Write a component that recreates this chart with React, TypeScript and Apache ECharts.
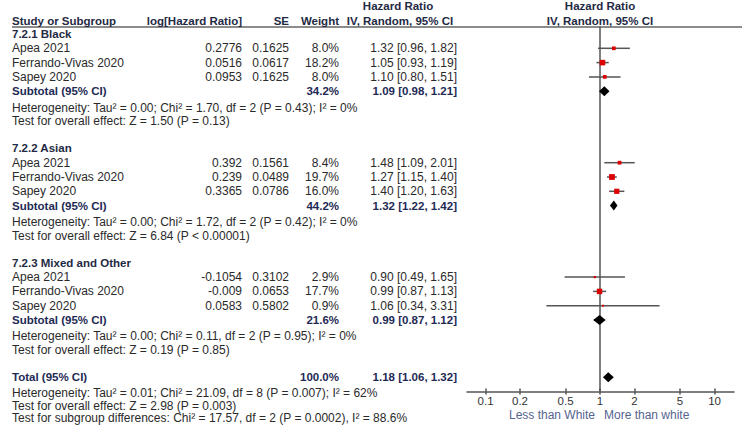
import React, { useEffect, useRef } from "react";
import * as echarts from "echarts";

const groupNames = ["7.2.1 Black", "7.2.2 Asian", "7.2.3 Mixed and Other"];
const studyNames = ["Apea 2021", "Ferrando-Vivas 2020", "Sapey 2020"];
const logHR = [
  [0.2776, 0.0516, 0.0953],
  [0.392, 0.239, 0.3365],
  [-0.1054, -0.009, 0.0583],
];
const seValues = [
  [0.1625, 0.0617, 0.1625],
  [0.1561, 0.0489, 0.0786],
  [0.3102, 0.0653, 0.5802],
];
const weights = [
  [8.0, 18.2, 8.0],
  [8.4, 19.7, 16.0],
  [2.9, 17.7, 0.9],
];
const hrValues = [
  [1.32, 1.05, 1.1],
  [1.48, 1.27, 1.4],
  [0.9, 0.99, 1.06],
];
const hrLower = [
  [0.96, 0.93, 0.8],
  [1.09, 1.15, 1.2],
  [0.49, 0.87, 0.34],
];
const hrUpper = [
  [1.82, 1.19, 1.51],
  [2.01, 1.4, 1.63],
  [1.65, 1.13, 3.31],
];
const subWeights = [34.2, 44.2, 21.6];
const subHR = [1.09, 1.32, 0.99];
const subLower = [0.98, 1.22, 0.87];
const subUpper = [1.21, 1.42, 1.12];
const hetTexts = [
  "Heterogeneity: Tau² = 0.00; Chi² = 1.70, df = 2 (P = 0.43); I² = 0%",
  "Heterogeneity: Tau² = 0.00; Chi² = 1.72, df = 2 (P = 0.42); I² = 0%",
  "Heterogeneity: Tau² = 0.00; Chi² = 0.11, df = 2 (P = 0.95); I² = 0%",
];
const effectTexts = [
  "Test for overall effect: Z = 1.50 (P = 0.13)",
  "Test for overall effect: Z = 6.84 (P < 0.00001)",
  "Test for overall effect: Z = 0.19 (P = 0.85)",
];
const totalWeight = 100.0;
const totalHR = 1.18;
const totalLower = 1.06;
const totalUpper = 1.32;
const totalTexts = [
  "Heterogeneity: Tau² = 0.01; Chi² = 21.09, df = 8 (P = 0.007); I² = 62%",
  "Test for overall effect: Z = 2.98 (P = 0.003)",
  "Test for subgroup differences: Chi² = 17.57, df = 2 (P = 0.0002), I² = 88.6%",
];
const tickValues = [0.1, 0.2, 0.5, 1, 2, 5, 10];
const axisCaptions = ["Less than White", "More than white"];

// layout
const ROW0 = 34;
const ROW_H = 14.3;
const rowY = (r: number) => ROW0 + r * ROW_H;
const FONT = '"Liberation Sans", Arial, sans-serif';
const REG = `12px ${FONT}`;
const BOLD = `bold 11.5px ${FONT}`;
const C_TEXT = "#2a2a2a";
const C_BOLD = "#1f2a44";
const C_SUB = "#1e2a55";

function txt(x: number, y: number, text: string, font: string, fill: string, align = "left") {
  return {
    type: "text",
    x,
    y,
    silent: true,
    style: {
      text,
      font,
      fill,
      align,
      textAlign: align,
      verticalAlign: "middle",
      textVerticalAlign: "middle",
    },
  };
}

const fmtCI = (h: number, l: number, u: number) =>
  `${h.toFixed(2)} [${l.toFixed(2)}, ${u.toFixed(2)}]`;

export default function App() {
  const ref = useRef<HTMLDivElement>(null);
  useEffect(() => {
    if (!ref.current) return;
    const chart = echarts.init(ref.current, undefined, { renderer: "svg" });

    const texts: any[] = [];
    // headers
    texts.push(txt(398, 6, "Hazard Ratio", BOLD, C_BOLD, "center"));
    texts.push(txt(600, 6, "Hazard Ratio", BOLD, C_BOLD, "center"));
    const hy = 20.5;
    texts.push(txt(12, hy, "Study or Subgroup", BOLD, C_BOLD));
    texts.push(txt(242, hy, "log[Hazard Ratio]", BOLD, C_BOLD, "right"));
    texts.push(txt(289, hy, "SE", BOLD, C_BOLD, "right"));
    texts.push(txt(339, hy, "Weight", BOLD, C_BOLD, "right"));
    texts.push(txt(400, hy, "IV, Random, 95% CI", BOLD, C_BOLD, "center"));
    texts.push(txt(600, hy, "IV, Random, 95% CI", BOLD, C_BOLD, "center"));

    const marks: any[] = [];
    groupNames.forEach((g, gi) => {
      const base = gi * 8;
      texts.push(txt(12, rowY(base), g, BOLD, C_BOLD));
      studyNames.forEach((s, si) => {
        const r = base + 1 + si;
        const y = rowY(r);
        texts.push(txt(12, y, s, REG, C_TEXT));
        texts.push(txt(242, y, String(logHR[gi][si]), REG, C_TEXT, "right"));
        texts.push(txt(289, y, String(seValues[gi][si]), REG, C_TEXT, "right"));
        texts.push(txt(339, y, weights[gi][si].toFixed(1) + "%", REG, C_TEXT, "right"));
        texts.push(
          txt(457, y, fmtCI(hrValues[gi][si], hrLower[gi][si], hrUpper[gi][si]), REG, C_TEXT, "right")
        );
        marks.push([
          Math.log10(hrValues[gi][si]),
          Math.log10(hrLower[gi][si]),
          Math.log10(hrUpper[gi][si]),
          r,
          weights[gi][si],
          0,
        ]);
      });
      const rs = base + 4;
      texts.push(txt(12, rowY(rs), "Subtotal (95% CI)", BOLD, C_SUB));
      texts.push(txt(339, rowY(rs), subWeights[gi].toFixed(1) + "%", BOLD, C_SUB, "right"));
      texts.push(txt(457, rowY(rs), fmtCI(subHR[gi], subLower[gi], subUpper[gi]), BOLD, C_SUB, "right"));
      marks.push([
        Math.log10(subHR[gi]),
        Math.log10(subLower[gi]),
        Math.log10(subUpper[gi]),
        rs,
        subWeights[gi],
        1,
      ]);
      texts.push(txt(12, rowY(base + 5.15), hetTexts[gi], REG, C_TEXT));
      texts.push(txt(12, rowY(base + 6.1), effectTexts[gi], REG, C_TEXT));
    });
    texts.push(txt(12, rowY(24), "Total (95% CI)", BOLD, C_SUB));
    texts.push(txt(339, rowY(24), totalWeight.toFixed(1) + "%", BOLD, C_SUB, "right"));
    texts.push(txt(457, rowY(24), fmtCI(totalHR, totalLower, totalUpper), BOLD, C_SUB, "right"));
    marks.push([Math.log10(totalHR), Math.log10(totalLower), Math.log10(totalUpper), 24, totalWeight, 1]);
    totalTexts.forEach((t, i) => {
      texts.push(txt(12, rowY(25.1 + i * 0.88), t, REG, C_TEXT));
    });
    texts.push(txt(595, 415, axisCaptions[0], REG, "#56648f", "right"));
    texts.push(txt(604, 415, axisCaptions[1], REG, "#56648f", "left"));

    const tickLogs = tickValues.map((t) => Math.log10(t));
    const labelFor = (v: number) => {
      let best = tickValues[0];
      tickValues.forEach((t) => {
        if (Math.abs(Math.log10(t) - v) < Math.abs(Math.log10(best) - v)) best = t;
      });
      return String(best);
    };

    const xMin = -1.162;
    const xMax = 1.17;

    chart.setOption({
      animation: false,
      backgroundColor: "#ffffff",
      grid: {
        left: 467,
        right: 11,
        top: rowY(-0.5),
        height: rowY(25) - rowY(-0.5),
      },
      xAxis: [
        {
          type: "value",
          min: xMin,
          max: xMax,
          position: "bottom",
          axisLine: { show: true, onZero: false, lineStyle: { color: "#555", width: 1.5 } },
          axisTick: {
            show: true,
            customValues: tickLogs,
            length: 3,
            lineStyle: { color: "#555", width: 1.5 },
          },
          axisLabel: {
            show: true,
            customValues: tickLogs,
            margin: 3,
            color: "#333",
            fontSize: 11.5,
            fontFamily: FONT,
            formatter: (v: number) => labelFor(v),
          },
          splitLine: { show: false },
        },
        {
          type: "value",
          min: xMin,
          max: xMax,
          position: "bottom",
          offset: 0,
          axisLine: { show: false, onZero: false },
          axisTick: {
            show: true,
            inside: true,
            customValues: tickLogs,
            length: 3,
            lineStyle: { color: "#555", width: 1.5 },
          },
          axisLabel: { show: false },
          splitLine: { show: false },
        },
      ],
      yAxis: {
        type: "value",
        inverse: true,
        min: -0.5,
        max: 25,
        axisLine: { show: true, onZero: true, lineStyle: { color: "#555", width: 1.5 } },
        axisTick: { show: false },
        axisLabel: { show: false },
        splitLine: { show: false },
      },
      graphic: [
        {
          type: "line",
          silent: true,
          shape: { x1: 12, y1: 27, x2: 742, y2: 27 },
          style: { stroke: "#666", lineWidth: 1.5 },
        },
        ...texts,
      ],
      series: [
        {
          type: "custom",
          xAxisIndex: 0,
          yAxisIndex: 0,
          clip: false,
          encode: { x: 0, y: 3 },
          data: marks,
          z: 5,
          renderItem: (params: any, api: any) => {
            const row = api.value(3);
            const c = api.coord([api.value(0), row]);
            const lo = api.coord([api.value(1), row]);
            const hi = api.coord([api.value(2), row]);
            const w = api.value(4);
            const kind = api.value(5);
            if (kind === 1) {
              return {
                type: "polygon",
                shape: {
                  points: [
                    [lo[0], c[1]],
                    [c[0], c[1] - 5],
                    [hi[0], c[1]],
                    [c[0], c[1] + 5],
                  ],
                },
                style: { fill: "#000" },
              };
            }
            const s = Math.max(2, 1.3 * Math.sqrt(w));
            return {
              type: "group",
              children: [
                {
                  type: "line",
                  shape: { x1: lo[0], y1: c[1], x2: hi[0], y2: c[1] },
                  style: { stroke: "#555", lineWidth: 1.5 },
                },
                {
                  type: "rect",
                  shape: { x: c[0] - s / 2, y: c[1] - s / 2, width: s, height: s },
                  style: { fill: "#dd0000" },
                },
              ],
            };
          },
        },
      ],
    });
    return () => chart.dispose();
  }, []);
  return (
    <div
      ref={ref}
      style={{ position: "fixed", left: 0, top: 0, width: 745, height: 429, background: "#fff" }}
    />
  );
}
